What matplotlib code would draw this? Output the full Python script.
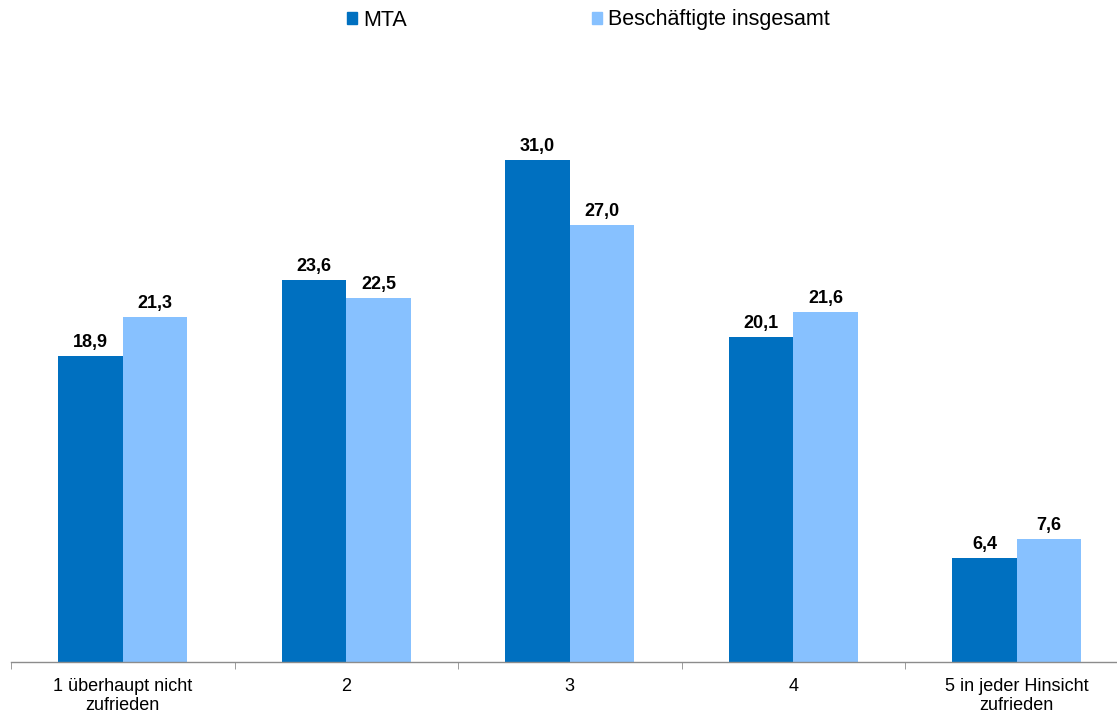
import matplotlib
matplotlib.use("Agg")
import matplotlib.pyplot as plt
from matplotlib.patches import Patch
import numpy as np

plt.rcParams['font.family'] = ['Liberation Sans', 'DejaVu Sans']

# Daten
kategorien = ['1 überhaupt nicht\nzufrieden', '2', '3', '4', '5 in jeder Hinsicht\nzufrieden']
mta = [18.9, 23.6, 31.0, 20.1, 6.4]
gesamt = [21.3, 22.5, 27.0, 21.6, 7.6]
serien = ['MTA', 'Beschäftigte insgesamt']
farben = ['#0070C0', '#87C1FF']

W, H = 1117, 713
fig = plt.figure(figsize=(W / 100, H / 100), dpi=100)
ax = fig.add_axes([11 / W, 51 / H, 1117.5 / W, 566.7 / H])

x = np.arange(len(kategorien))
bw = 0.2875

b1 = ax.bar(x - bw / 2, mta, bw, color=farben[0], edgecolor='none')
b2 = ax.bar(x + bw / 2, gesamt, bw, color=farben[1], edgecolor='none')

# Werte über den Balken
for bars, werte in [(b1, mta), (b2, gesamt)]:
    for r, v in zip(bars, werte):
        ax.annotate(f'{v:.1f}'.replace('.', ','),
                    (r.get_x() + r.get_width() / 2, r.get_height()),
                    xytext=(0, 6.5), textcoords='offset points',
                    ha='center', va='baseline', fontsize=13, fontweight='bold')

ax.set_xlim(-0.5, len(kategorien) - 0.5)
ax.set_ylim(0, 35)

# Achsen
for s in ['top', 'right', 'left']:
    ax.spines[s].set_visible(False)
ax.spines['bottom'].set_color('#8c8c8c')
ax.spines['bottom'].set_linewidth(1)
ax.set_yticks([])
ax.set_xticks(x)
ax.set_xticklabels(kategorien, fontsize=13, linespacing=1.12)
ax.tick_params(axis='x', which='major', length=0, pad=11.5)
ax.set_xticks(np.arange(-0.5, len(kategorien)), minor=True)
ax.tick_params(axis='x', which='minor', length=5, color='#8c8c8c', direction='out')

# Legende
handles = [Patch(color=c, label=l) for c, l in zip(farben, serien)]
fig.legend(handles=handles, loc='center', bbox_to_anchor=(588.5 / W, 1 - 20 / H),
           ncol=2, frameon=False, fontsize=15.5, handlelength=0.45, handleheight=0.45,
           handletextpad=0.3, columnspacing=8.6, borderpad=0)

fig.savefig('out.png', dpi=100)
